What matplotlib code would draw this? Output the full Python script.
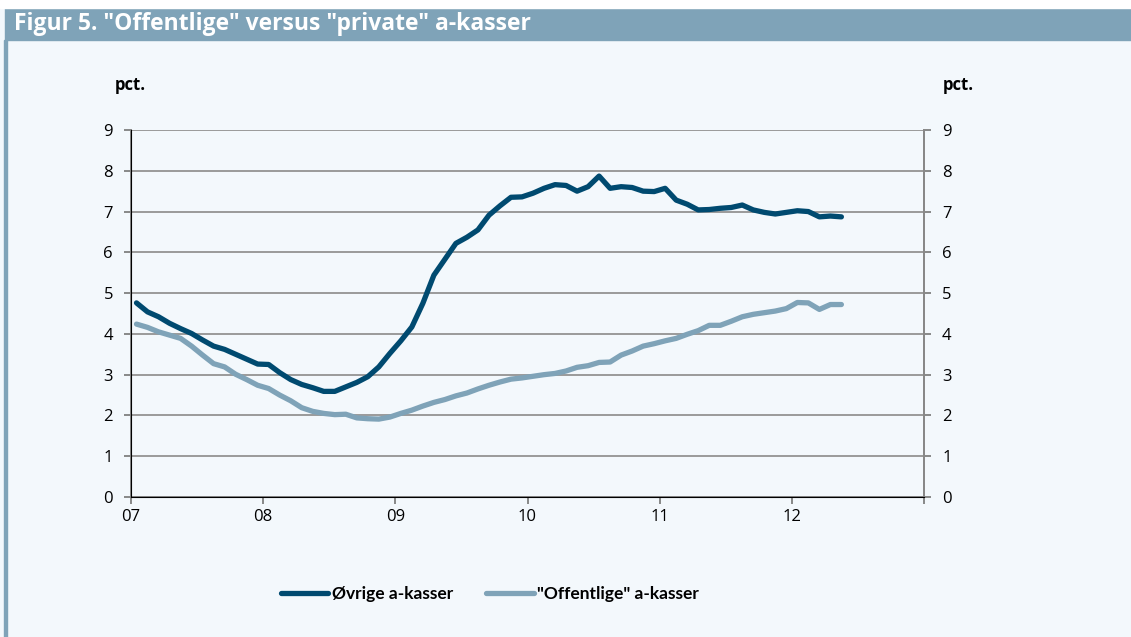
import matplotlib.pyplot as plt
from matplotlib.patches import Rectangle

# monthly unemployment, jan 2007 - may 2012
ovrige = [4.76, 4.54, 4.42, 4.26, 4.13, 4.01, 3.85, 3.70, 3.62, 3.50, 3.38, 3.26,
          3.25, 3.05, 2.88, 2.76, 2.68, 2.59, 2.59, 2.70, 2.81, 2.95, 3.19, 3.52,
          3.83, 4.17, 4.75, 5.44, 5.83, 6.22, 6.37, 6.55, 6.91, 7.14, 7.35, 7.36,
          7.45, 7.57, 7.66, 7.64, 7.50, 7.61, 7.87, 7.57, 7.61, 7.59, 7.50, 7.49,
          7.57, 7.28, 7.18, 7.04, 7.05, 7.08, 7.10, 7.16, 7.04, 6.98, 6.94, 6.98,
          7.02, 7.00, 6.87, 6.89, 6.87]
offentlige = [4.24, 4.16, 4.05, 3.97, 3.89, 3.70, 3.48, 3.27, 3.19, 3.01, 2.88, 2.74,
              2.66, 2.50, 2.36, 2.19, 2.10, 2.05, 2.02, 2.03, 1.94, 1.92, 1.91, 1.96,
              2.05, 2.13, 2.23, 2.32, 2.39, 2.48, 2.55, 2.65, 2.74, 2.82, 2.89, 2.92,
              2.96, 3.00, 3.03, 3.09, 3.18, 3.22, 3.30, 3.31, 3.48, 3.58, 3.70, 3.76,
              3.83, 3.89, 3.99, 4.08, 4.21, 4.21, 4.31, 4.42, 4.48, 4.52, 4.56, 4.62,
              4.77, 4.76, 4.60, 4.72, 4.72]
year_labels = ['07', '08', '09', '10', '11', '12', '']

bg = '#f3f8fc'
dark = '#004a70'
light = '#7fa3b8'
grid_col = '#9a9a9a'

plt.rcParams['font.family'] = ['Open Sans', 'DejaVu Sans']

fig = plt.figure(figsize=(11.31, 6.37), dpi=100, facecolor=bg)

# header bar and left border
fig.patches.append(Rectangle((5 / 1131, 1 - 40 / 637), 1, 32 / 637,
                             transform=fig.transFigure, color=light, zorder=0))
fig.patches.append(Rectangle((0, 1 - 8 / 637), 1, 8 / 637,
                             transform=fig.transFigure, color='white', zorder=0))
fig.patches.append(Rectangle((4 / 1131, 0), 3 / 1131, 1 - 40 / 637,
                             transform=fig.transFigure, color=light, zorder=0))
fig.text(14 / 1131, 1 - 24 / 637, 'Figur 5. "Offentlige" versus "private" a-kasser',
         color='white', fontsize=16.5, fontweight='bold', va='center', ha='left')

ax = fig.add_axes([131 / 1131, 1 - 497 / 637, 793 / 1131, 367 / 637])
ax.set_facecolor(bg)
x = [i + 0.5 for i in range(len(ovrige))]
ax.plot(x, ovrige, color=dark, lw=3.8, solid_capstyle='round', solid_joinstyle='round',
        label='Øvrige a-kasser', zorder=3)
ax.plot(x, offentlige, color=light, lw=3.8, solid_capstyle='round', solid_joinstyle='round',
        label='"Offentlige" a-kasser', zorder=3)

ax.set_xlim(0, 72)
ax.set_ylim(0, 9)
ax.set_xticks(range(0, 73, 12))
ax.set_xticklabels(year_labels)
ax.set_yticks(range(10))
ax.grid(axis='y', color=grid_col, lw=1.4, zorder=1)
ax.set_axisbelow(True)
ax.spines['top'].set_visible(False)
for s in ['left', 'right', 'bottom']:
    ax.spines[s].set_color('#888888')
    ax.spines[s].set_linewidth(1.4)
ax.tick_params(axis='both', colors='#888888', labelcolor='black', labelsize=12,
               length=5, width=1.4, direction='out')
ax.tick_params(axis='y', pad=8)

ax2 = ax.twinx()
ax2.set_ylim(0, 9)
ax2.set_yticks(range(10))
ax2.spines['top'].set_visible(False)
ax2.spines['right'].set_color('#888888')
ax2.spines['right'].set_linewidth(1.4)
ax2.tick_params(axis='y', colors='#888888', labelcolor='black', labelsize=12,
                length=5, width=1.4, pad=8)

fig.text(130 / 1131, 1 - 85 / 637, 'pct.', fontsize=12, fontweight='bold',
         ha='center', va='center')
fig.text(958 / 1131, 1 - 85 / 637, 'pct.', fontsize=12, fontweight='bold',
         ha='center', va='center')

leg = fig.legend(loc='center', bbox_to_anchor=(490 / 1131, 1 - 594 / 637), ncol=2,
                 frameon=False, handlelength=2.75, handletextpad=0.2, columnspacing=1.9,
                 prop={'family': ['Lato', 'DejaVu Sans'], 'weight': 'bold', 'size': 12.5})

fig.savefig('out.png', dpi=100, facecolor=bg)
